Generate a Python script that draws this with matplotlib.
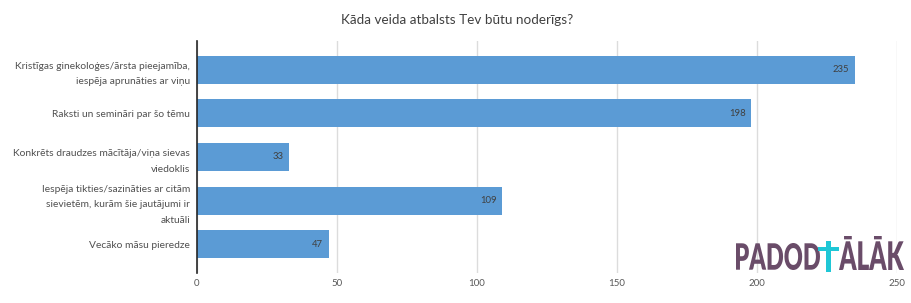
import matplotlib.pyplot as plt
from matplotlib.textpath import TextPath
from matplotlib.patches import PathPatch
from matplotlib.font_manager import FontProperties
from matplotlib.transforms import Affine2D

plt.rcParams['font.family'] = ['Lato', 'DejaVu Sans']

categories = [
    "Kristīgas ginekoloģes/ārsta pieejamība,\niespēja aprunāties ar viņu",
    "Raksti un semināri par šo tēmu",
    "Konkrēts draudzes mācītāja/viņa sievas\nviedoklis",
    "Iespēja tikties/sazināties ar citām\nsievietēm, kurām šie jautājumi ir\naktuāli",
    "Vecāko māsu pieredze",
]
values = [235, 198, 33, 109, 47]
x_ticks = [0, 50, 100, 150, 200, 250]
title = "Kāda veida atbalsts Tev būtu noderīgs?"

fig = plt.figure(figsize=(9.12, 3.03), dpi=100)
ax = fig.add_axes([0.216, 0.099, 0.7675, 0.7667])

pos = list(range(len(categories)))
ax.barh(pos, values, height=0.64, color="#5b9bd5", zorder=3)
for p, v in zip(pos, values):
    ax.text(v - 2, p, str(v), ha='right', va='center', fontsize=6.8, color="#404040", zorder=4)

ax.set_xlim(0, 250)
ax.set_ylim(4.66, -0.665)
ax.set_yticks(pos)
ax.set_yticklabels(categories, fontsize=7.4, color="#505050", linespacing=1.95)
ax.set_xticks(x_ticks)
ax.set_xticklabels([str(t) for t in x_ticks], fontsize=7, color="#595959")
ax.tick_params(axis='y', length=0, pad=5)
ax.tick_params(axis='x', length=0, pad=4)
ax.grid(axis='x', color="#dcdcdc", linewidth=1, zorder=0)
for s in ['top', 'right', 'bottom']:
    ax.spines[s].set_visible(False)
ax.spines['left'].set_color("#262626")
ax.spines['left'].set_linewidth(1.2)
ax.spines['left'].set_zorder(5)

fig.text(0.501, 0.933, title, ha='center', va='center', fontsize=9.7, color="#404040")


# logo: text paths stretched into a box given in pixels from the top-left corner
def logo_word(s, x0, x1, y_top, y_bot, color):
    fp = FontProperties(family='Lato', weight='heavy')
    tp = TextPath((0, 0), s, size=10, prop=fp)
    ext = tp.get_extents()
    sx = (x1 - x0) / ext.width
    sy = (y_bot - y_top) / ext.height
    tr = (Affine2D().translate(-ext.x0, -ext.y0).scale(sx, sy).translate(x0, 303 - y_bot)
          + Affine2D().scale(1.0 / 912, 1.0 / 303) + fig.transFigure)
    fig.patches.append(PathPatch(tp, transform=tr, color=color, lw=0))


purple = "#6a4c69"
cyan = "#1fc7d6"
logo_word("PADOD", 736, 820, 243, 270, purple)
logo_word("ĀLĀK", 839, 904, 236, 270, purple)
# the cross between the two words
fig.patches.append(plt.Rectangle((826 / 912, (303 - 272) / 303), 5 / 912, 31 / 303,
                                 transform=fig.transFigure, color=cyan, lw=0))
fig.patches.append(plt.Rectangle((818 / 912, (303 - 251) / 303), 21 / 912, 4 / 303,
                                 transform=fig.transFigure, color=cyan, lw=0))

fig.savefig("out.png", dpi=100)
